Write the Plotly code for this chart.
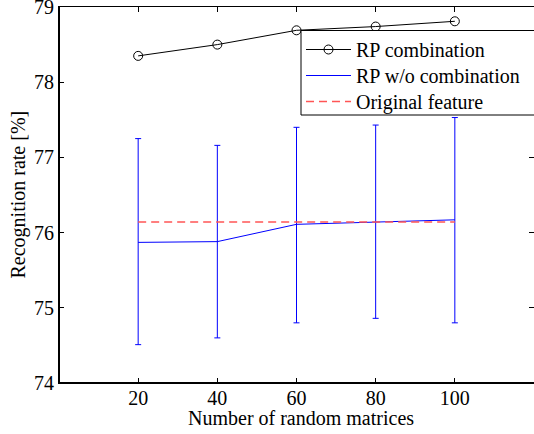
import plotly.graph_objects as go

n_matrices = [20, 40, 60, 80, 100]
rp_combination = [78.35, 78.50, 78.69, 78.74, 78.81]
rp_wo_combination = [75.87, 75.88, 76.11, 76.14, 76.17]
rp_wo_upper = [77.25, 77.16, 77.40, 77.43, 77.53]
rp_wo_lower = [74.51, 74.60, 74.80, 74.86, 74.80]
original_feature = [76.14, 76.14, 76.14, 76.14, 76.14]

x_ticks = [20, 40, 60, 80, 100]
y_ticks = [74, 75, 76, 77, 78, 79]

x_title = "Number of random matrices"
y_title = "Recognition rate [%]"

FONT = "Liberation Serif"
W, H = 534, 434
ML, MR, MT, MB = 59, 0, 7, 51
PW, PH = W - ML - MR, H - MT - MB


def px_x(p):
    return (p - ML) / PW


def px_y(p):
    return 1 - (p - MT) / PH


err_plus = [u - m for u, m in zip(rp_wo_upper, rp_wo_combination)]
err_minus = [m - l for m, l in zip(rp_wo_combination, rp_wo_lower)]

fig = go.Figure()
fig.add_trace(go.Scatter(
    x=n_matrices, y=rp_combination, name="RP combination",
    mode="lines+markers", legend="legend",
    line=dict(color="black", width=1),
    marker=dict(symbol="circle-open", size=9, color="black", line=dict(width=1)),
))
fig.add_trace(go.Scatter(
    x=n_matrices, y=rp_wo_combination, name="RP w/o combination",
    mode="lines", legend="legend2",
    line=dict(color="#0000ff", width=1),
    error_y=dict(type="data", symmetric=False, array=err_plus, arrayminus=err_minus,
                 color="#0000ff", thickness=1, width=3),
))
fig.add_trace(go.Scatter(
    x=n_matrices, y=original_feature, name="Original feature",
    mode="lines", legend="legend3",
    line=dict(color="#ff5555", width=1.5, dash="8px,5px"),
))

shapes = [
    # legend box (extends past the right edge like the reference)
    dict(type="rect", xref="paper", yref="paper", layer="above",
         x0=px_x(301), x1=px_x(545), y0=px_y(115), y1=px_y(30.5),
         fillcolor="white", line=dict(color="black", width=1)),
    # heavier left and bottom axes
    dict(type="line", xref="paper", yref="paper", layer="above",
         x0=0, x1=0, y0=0, y1=1, line=dict(color="black", width=2)),
    dict(type="line", xref="paper", yref="paper", layer="above",
         x0=0, x1=1, y0=0, y1=0, line=dict(color="black", width=2)),
]

annotations = [
    dict(text=x_title, xref="paper", yref="paper", x=px_x(301), y=0,
         xanchor="center", yanchor="middle", yshift=-35, showarrow=False,
         font=dict(family=FONT, size=20, color="black")),
    dict(text=y_title, xref="paper", yref="paper", x=0, y=0.5,
         xanchor="center", yanchor="middle", xshift=-(ML - 17.5), textangle=-90,
         showarrow=False, font=dict(family=FONT, size=20, color="black")),
]


def leg(top_px):
    return dict(
        x=px_x(301), xanchor="left", y=px_y(top_px), yanchor="top",
        bgcolor="rgba(0,0,0,0)", borderwidth=0,
        font=dict(family=FONT, size=20, color="black"),
        tracegroupgap=0, itemwidth=45,
    )


fig.update_layout(
    width=W, height=H,
    margin=dict(l=ML, r=MR, t=MT, b=MB, autoexpand=False),
    paper_bgcolor="white", plot_bgcolor="white",
    font=dict(family=FONT, size=20, color="black"),
    showlegend=True,
    shapes=shapes,
    annotations=annotations,
    legend=leg(30),
    legend2=leg(56),
    legend3=leg(82),
    xaxis=dict(
        range=[0, 120], tickvals=x_ticks, ticktext=[str(v) for v in x_ticks],
        showgrid=False, zeroline=False, automargin=False,
        showline=True, linecolor="black", linewidth=1, mirror="ticks",
        ticks="inside", ticklen=5, tickcolor="black", ticklabelstandoff=-3,
        tickfont=dict(family=FONT, size=20), ticklabeloverflow="allow",
    ),
    yaxis=dict(
        range=[74, 79], tickvals=y_ticks, ticktext=[str(v) for v in y_ticks],
        showgrid=False, zeroline=False, automargin=False,
        showline=True, linecolor="black", linewidth=1, mirror="ticks",
        ticks="inside", ticklen=5, tickcolor="black",
        tickfont=dict(family=FONT, size=20), ticklabeloverflow="allow",
    ),
)

fig.write_html("out.html", config={"displayModeBar": False},
               post_script="document.body.style.margin='0';")
